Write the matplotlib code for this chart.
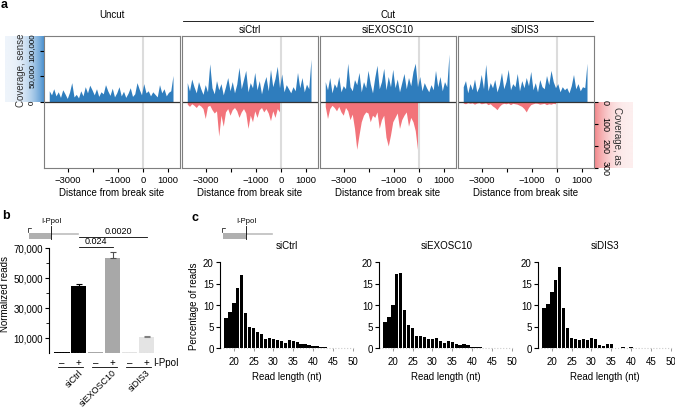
import numpy as np
import matplotlib
matplotlib.use('Agg')
import matplotlib.pyplot as plt
from matplotlib.patches import Rectangle
from matplotlib.colors import LinearSegmentedColormap

plt.rcParams['font.family'] = ['Liberation Sans', 'DejaVu Sans']
plt.rcParams['font.size'] = 7

W, H = 675, 410

# ---- panel a: coverage around the break site (sense in thousands of reads, antisense in reads)
cov_x = np.arange(-3750, 1201, 90)
uncut_sense = [22, 14, 26, 12, 20, 9, 24, 16, 7, 19, 38, 10, 15, 8, 22, 12, 30, 18, 33, 24,
               14, 26, 11, 20, 16, 34, 22, 13, 27, 10, 18, 30, 12, 21, 9, 17, 28, 11, 16, 38,
               25, 14, 36, 18, 22, 12, 20, 15, 10, 34, 18, 26, 12, 19, 22, 52]
ctrl_sense = [38, 22, 45, 30, 18, 40, 26, 15, 34, 20, 75, 28, 16, 42, 24, 36, 14, 30, 48, 22,
              40, 18, 35, 68, 26, 44, 62, 20, 38, 28, 58, 24, 42, 16, 36, 50, 22, 64, 30, 46,
              70, 28, 55, 20, 34, 26, 18, 30, 22, 58, 28, 48, 20, 35, 26, 84]
exo_sense = [40, 24, 48, 18, 36, 28, 50, 20, 32, 26, 76, 30, 22, 44, 34, 58, 20, 40, 28, 62,
             36, 18, 48, 72, 26, 40, 66, 24, 50, 30, 64, 28, 45, 20, 38, 56, 26, 48, 32, 60,
             76, 30, 50, 22, 38, 28, 20, 34, 24, 62, 30, 50, 22, 40, 30, 94]
dis3_sense = [30, 42, 18, 36, 24, 45, 20, 30, 54, 26, 74, 22, 38, 28, 44, 20, 34, 58, 26, 40,
              64, 24, 36, 30, 56, 22, 42, 28, 48, 32, 60, 24, 38, 20, 44, 30, 26, 52, 34, 62,
              40, 28, 36, 20, 30, 24, 28, 18, 32, 54, 26, 36, 22, 30, 28, 76]
ctrl_as = [10, 20, 8, 15, 25, 12, 18, 30, 75, 20, 15, 35, 50, 40, 155, 60, 110, 45, 30, 60,
           35, 25, 40, 70, 45, 30, 50, 120, 60, 90, 40, 70, 35, 25, 45, 30, 50, 85, 40, 70,
           30, 45]
exo_as = [20, 75, 30, 15, 25, 40, 20, 45, 60, 25, 40, 80, 55, 120, 215, 150, 90, 60, 45, 50,
          90, 60, 70, 45, 120, 80, 60, 160, 200, 150, 90, 70, 50, 120, 80, 60, 45, 110, 70, 90,
          130, 215]
dis3_as = [5, 8, 3, 6, 4, 10, 5, 3, 8, 6, 4, 12, 8, 18, 25, 35, 20, 10, 6, 8,
           5, 12, 6, 8, 10, 15, 20, 30, 45, 25, 12, 8, 5, 6, 10, 8, 6, 12, 8, 10,
           6, 8]
panel_names = ['', 'siCtrl', 'siEXOSC10', 'siDIS3']
sense_ticks = [0, 50, 100]
sense_tick_labels = ['0', '50,000', '100,000']

# ---- panel b: normalized reads
b_labels = ['siCtrl', 'siEXOSC10', 'siDIS3']
b_values = [400, 44700, 400, 63300, 400, 10700]
b_err = [0, 1500, 0, 3800, 0, 900]
b_pvals = ['0.024', '0.0020']

# ---- panel c: read length distributions
read_len = np.arange(18, 51)
ctrl_hist = [7.05, 8.45, 10.5, 14.0, 17.0, 8.2, 5.0, 4.6, 3.7, 3.2, 2.2, 2.3, 2.1, 1.9, 1.6,
             1.2, 1.8, 1.7, 1.5, 0.85, 0.85, 0.6, 0.55, 0.45, 0.3, 0.15, 0.1, 0.1, 0.05, 0.05,
             0.05, 0.05, 0.05]
exo_hist = [6.0, 7.2, 10.0, 17.1, 17.4, 8.8, 5.3, 4.65, 2.7, 2.7, 2.6, 2.2, 2.1, 2.25, 1.6,
            1.25, 1.55, 1.3, 0.85, 0.7, 0.85, 0.6, 0.3, 0.3, 0.15, 0.1, 0.05, 0.05, 0.05, 0.05,
            0.05, 0.05, 0.05]
dis3_hist = [9.3, 10.2, 13.0, 15.7, 18.9, 9.4, 4.65, 2.4, 2.2, 1.95, 2.2, 1.95, 2.4, 2.0, 0.7,
             0.45, 1.0, 1.0, 0, 0, 0.15, 0, 0.15, 0, 0, 0, 0, 0, 0, 0,
             0, 0, 0]
hist_names = ['siCtrl', 'siEXOSC10', 'siDIS3']

BLUE = '#2f7dbd'
RED = '#f2737a'
SENSE_TOP = 129.4   # thousands at top of panel
AS_BOTTOM = 300.0


def px_axes(fig, x0, y0, x1, y1, **kw):
    return fig.add_axes([x0 / W, 1 - y1 / H, (x1 - x0) / W, (y1 - y0) / H], **kw)


fig = plt.figure(figsize=(W / 100, H / 100), dpi=100)

# gradient boxes behind the coverage axis labels
ramp = np.linspace(0, 1, 200) ** 2.5
gax = px_axes(fig, 5, 37, 44, 103)
gax.imshow(ramp[None, :], aspect='auto',
           cmap=LinearSegmentedColormap.from_list('bl', ['#eef4fb', '#4b91cf']))
gax.axis('off')
gax = px_axes(fig, 593, 103, 633, 169)
gax.imshow(ramp[None, ::-1], aspect='auto',
           cmap=LinearSegmentedColormap.from_list('rd', ['#fdeeee', '#f07b7f']))
gax.axis('off')

senses = [uncut_sense, ctrl_sense, exo_sense, dis3_sense]
antis = [None, ctrl_as, exo_as, dis3_as]
for i, left in enumerate([44, 182, 320, 458]):
    ax = px_axes(fig, left, 37, left + 136, 169)
    ax.set_xlim(-3960, 1480)
    ax.set_ylim(-1, 1)
    ax.axvline(0, color='#dcdcdc', lw=1.5, zorder=0)
    ax.fill_between(cov_x, 0, np.array(senses[i]) / SENSE_TOP, color=BLUE, lw=0)
    if antis[i] is not None:
        xa = cov_x[:len(antis[i])]
        ax.fill_between(xa, 0, -np.array(antis[i]) / AS_BOTTOM, color=RED, lw=0)
    ax.axhline(0, color='#333333', lw=0.9)
    for s in ax.spines.values():
        s.set_color('#7f7f7f')
        s.set_linewidth(0.8)
    ax.set_xticks([-3000, -2000, -1000, 0, 1000])
    ax.set_xticklabels(['\u22123000', '', '\u22121000', '0', '1000'])
    ax.tick_params(axis='x', direction='out', length=3, width=0.8, labelsize=6.8, pad=2)
    ax.set_xlabel('Distance from break site', fontsize=7, labelpad=2)
    if i == 0:
        ax.set_yticks(np.array(sense_ticks) / SENSE_TOP)
        ax.set_yticklabels([])
        ax.tick_params(axis='y', direction='out', length=3, width=0.8)
        # labels placed by hand (shifted up a little) so the long ones do not collide
        for t, lab, dy in zip(sense_ticks, sense_tick_labels, [0, 0.023, 0.06]):
            ax.text(-0.085, t / SENSE_TOP + dy, lab, transform=ax.get_yaxis_transform(),
                    rotation=90, ha='center', va='center', fontsize=5.8, clip_on=False)
    elif i == 3:
        ax.yaxis.tick_right()
        ax.set_yticks([0, -1 / 3, -2 / 3, -1])
        ax.set_yticklabels(['0', '100', '200', '300'], rotation=270, va='center')
        ax.tick_params(axis='y', direction='out', length=3, width=0.8, labelsize=6.5, pad=1.5)
    else:
        ax.set_yticks([])

# ---- panel b
axb = px_axes(fig, 49, 234, 162, 354)
axb.set_xlim(-0.76, 5.9)
axb.set_ylim(0, 80000)
pos = np.arange(len(b_values))
b_colors = ['black', 'black', '#a8a8a8', '#a8a8a8', '#e4e4e4', '#e4e4e4']
err_colors = ['black', 'black', '#505050', '#505050', '#808080', '#808080']
axb.bar(pos, b_values, width=0.9, color=b_colors, lw=0)
for p, v, e, c in zip(pos, b_values, b_err, err_colors):
    if e > 0:
        axb.errorbar(p, v, yerr=[[0], [e]], fmt='none', ecolor=c, elinewidth=0.8,
                     capsize=2, capthick=0.8)
axb.axhline(0, color='#cccccc', lw=0.8, ls=':')
for s in ['top', 'right', 'bottom']:
    axb.spines[s].set_visible(False)
axb.spines['left'].set_bounds(0, 70000)
axb.spines['left'].set_linewidth(0.8)
axb.set_yticks([10000, 30000, 50000, 70000])
axb.set_yticklabels(['10,000', '30,000', '50,000', '70,000'])
axb.set_yticks([20000, 40000, 60000], minor=True)
axb.tick_params(axis='y', which='major', direction='out', length=3, width=0.8, labelsize=7, pad=1.5)
axb.tick_params(axis='y', which='minor', direction='out', length=2, width=0.6)
axb.set_xticks([])
axb.set_ylabel('Normalized reads', fontsize=7, labelpad=2)
# significance lines
for (a, b), y, txt in zip([(1, 3), (1, 5)], [70700, 77300], b_pvals):
    axb.plot([a, b], [y, y], color='black', lw=0.6, clip_on=False)
    axb.text((a + b) / 2 + (0.3 if b == 5 else 0), y + 1500, txt, ha='center', va='bottom',
             fontsize=6.5, clip_on=False)
# minus/plus labels and group lines
for g, name in enumerate(b_labels):
    pm, pp = pos[2 * g], pos[2 * g + 1]
    axb.text(pm, -6000, '\u2013', ha='center', va='center', fontsize=7, clip_on=False)
    axb.text(pp, -6000, '+', ha='center', va='center', fontsize=7, clip_on=False)
    axb.plot([pm - 0.25, pp + 0.25], [-9300, -9300], color='black', lw=0.6, clip_on=False)
    axb.text(pp - 0.05, -9500, name, rotation=45, rotation_mode='anchor', ha='right',
             va='top', fontsize=6.5, clip_on=False)
axb.text(5.35, -6000, 'I-PpoI', ha='left', va='center', fontsize=7, clip_on=False)

# ---- panel c
for k, (left, vals, name) in enumerate(zip([220, 379, 538], [ctrl_hist, exo_hist, dis3_hist],
                                           hist_names)):
    ax = px_axes(fig, left, 263, left + 134.6, 349)
    ax.set_xlim(16.5, 50.5)
    ax.set_ylim(0, 20)
    ax.bar(read_len, vals, width=0.85, color='black', lw=0)
    ax.axhline(0, color='#cccccc', lw=0.8, ls=':', clip_on=False)
    for s in ['top', 'right', 'bottom']:
        ax.spines[s].set_visible(False)
    ax.spines['left'].set_linewidth(0.8)
    ax.set_yticks([0, 5, 10, 15, 20])
    ax.set_xticks([20, 25, 30, 35, 40, 45, 50])
    ax.tick_params(axis='y', direction='out', length=3, width=0.8, labelsize=7, pad=1.5)
    ax.tick_params(axis='x', direction='out', length=2.5, width=0.6, color='#888888',
                   labelsize=7, pad=3)
    ax.set_title(name, fontsize=7, pad=10)
    ax.set_xlabel('Read length (nt)', fontsize=7, labelpad=4)
    if k == 0:
        ax.set_ylabel('Percentage of reads', fontsize=7, labelpad=3)

# ---- overlay in pixel coordinates: headers, letters, gene diagrams, axis titles
ov = fig.add_axes([0, 0, 1, 1], zorder=10)
ov.set_xlim(0, W)
ov.set_ylim(H, 0)
ov.axis('off')
ov.patch.set_alpha(0)

ov.text(1, 5, 'a', fontsize=9, weight='bold', va='center', ha='left')
ov.text(2, 216, 'b', fontsize=9, weight='bold', va='center', ha='left')
ov.text(191, 218, 'c', fontsize=9, weight='bold', va='center', ha='left')

ov.text(112, 15, 'Uncut', ha='center', va='center', fontsize=7)
ov.text(388, 15, 'Cut', ha='center', va='center', fontsize=7)
ov.plot([183, 593], [21.5, 21.5], color='black', lw=0.6)
for cx, name in zip([250, 388, 525], panel_names[1:]):
    ov.text(cx, 30, name, ha='center', va='center', fontsize=7)

ov.text(21, 70, 'Coverage, sense', rotation=90, ha='center', va='center', fontsize=7,
        color='#333333')
ov.text(617, 136, 'Coverage, as', rotation=270, ha='center', va='center', fontsize=7,
        color='#333333')


def draw_gene(x0, box_w, line_w):
    ov.add_patch(Rectangle((x0, 234), box_w, 6, color='#b0b0b0', lw=0))
    ov.plot([x0 + box_w, x0 + box_w + line_w], [234.5, 234.5], color='#bdbdbd', lw=1.2)
    ov.plot([x0 + box_w, x0 + box_w], [227, 240], color='black', lw=0.6)
    ov.plot([x0 - 1, x0 - 1, x0 + 2], [233, 229, 229], color='black', lw=0.5)
    ov.text(x0 + box_w, 222, 'I-PpoI', ha='center', va='center', fontsize=5.5)


draw_gene(29, 22, 27)
draw_gene(223, 23, 26)

fig.savefig('out.png', dpi=100)
